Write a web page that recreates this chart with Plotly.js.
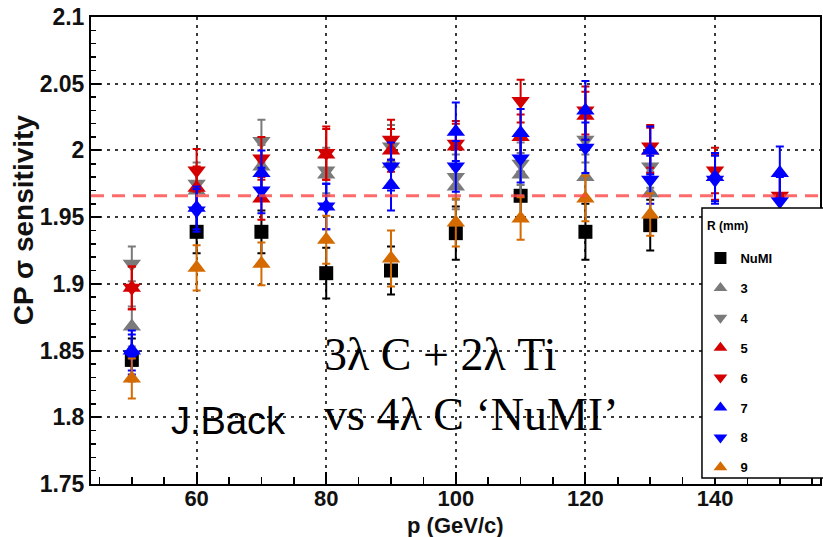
<!DOCTYPE html>
<html>
<head>
<meta charset="utf-8">
<script src="https://cdn.plot.ly/plotly-3.0.1.min.js"></script>
<style>html,body{margin:0;padding:0;background:#fff;}#chart{width:823px;height:537px;}</style>
</head>
<body>
<div id="chart"></div>
<script>
// momentum values p (GeV/c)
var pValues = [50, 60, 70, 80, 90, 100, 110, 120, 130, 140, 150];

// CP sigma sensitivity per horn radius R (mm); null = hidden behind legend
var numiY  = [1.843, 1.939, 1.939, 1.908, 1.910, 1.938, 1.966, 1.939, 1.944, null, null];
var numiE  = [0.016, 0.016, 0.016, 0.019, 0.018, 0.020, 0.018, 0.021, 0.019, null, null];
var r3Y    = [1.868, 1.970, 1.988, 1.982, 1.990, 1.973, 1.982, 1.980, 1.968, null, null];
var r3E    = [0.015, 0.016, 0.016, 0.016, 0.016, 0.017, 0.016, 0.017, 0.016, null, null];
var r4Y    = [1.915, 1.975, 2.007, 1.985, 2.003, 1.980, 1.990, 2.008, 1.988, null, null];
var r4E    = [0.013, 0.016, 0.016, 0.017, 0.016, 0.017, 0.016, 0.017, 0.016, null, null];
var r5Y    = [1.897, 1.972, 1.964, 1.997, 2.000, 2.003, 2.010, 2.026, 2.000, 1.980, null];
var r5E    = [0.016, 0.016, 0.016, 0.019, 0.016, 0.017, 0.017, 0.018, 0.017, 0.017, null];
var r6Y    = [1.897, 1.985, 1.994, 1.998, 2.008, 2.005, 2.037, 2.030, 2.003, 1.985, 1.966];
var r6E    = [0.016, 0.016, 0.016, 0.020, 0.015, 0.017, 0.016, 0.018, 0.016, 0.017, 0.017];
var r7Y    = [1.850, 1.957, 1.983, 1.958, 1.974, 2.014, 2.013, 2.030, 2.000, 1.980, 1.983];
var r7E    = [0.015, 0.016, 0.017, 0.017, 0.019, 0.022, 0.018, 0.022, 0.018, 0.018, 0.020];
var r8Y    = [1.847, 1.955, 1.970, 1.958, 1.988, 1.988, 1.994, 2.002, 1.978, 1.978, 1.962];
var r8E    = [0.015, 0.016, 0.017, 0.017, 0.018, 0.019, 0.018, 0.019, 0.018, 0.018, 0.018];
var r9Y    = [1.829, 1.912, 1.915, 1.933, 1.919, 1.946, 1.949, 1.964, 1.952, null, null];
var r9E    = [0.015, 0.017, 0.016, 0.018, 0.021, 0.018, 0.016, 0.017, 0.016, null, null];

var seriesNames = ['NuMI', '3', '4', '5', '6', '7', '8', '9'];
var refLine = 1.966;

var xTicks = [60, 80, 100, 120, 140];
var yTicks = [1.75, 1.8, 1.85, 1.9, 1.95, 2, 2.05, 2.1];

var specs = [
  {y: numiY, e: numiE, color: '#000000', symbol: 'square', size: 14},
  {y: r3Y, e: r3E, color: '#7a7a7a', symbol: 'triangle-up', size: 16},
  {y: r4Y, e: r4E, color: '#7a7a7a', symbol: 'triangle-down', size: 16},
  {y: r5Y, e: r5E, color: '#d40000', symbol: 'triangle-up', size: 16},
  {y: r6Y, e: r6E, color: '#d40000', symbol: 'triangle-down', size: 16},
  {y: r7Y, e: r7E, color: '#0000ff', symbol: 'triangle-up', size: 16},
  {y: r8Y, e: r8E, color: '#0000ff', symbol: 'triangle-down', size: 16},
  {y: r9Y, e: r9E, color: '#d46a00', symbol: 'triangle-up', size: 16}
];

var traces = specs.map(function (s, i) {
  return {
    type: 'scatter', mode: 'markers',
    x: pValues, y: s.y, name: seriesNames[i],
    legendgroup: 'g' + i,
    marker: {color: s.color, symbol: s.symbol, size: s.size, line: {width: 0}},
    error_y: {type: 'data', array: s.e, visible: true, color: s.color, thickness: 2, width: 4}
  };
});

var sansBold = function (sz) { return {family: 'Liberation Sans, Arial, sans-serif', size: sz, color: '#111', weight: 'bold'}; };
var gridDash = '3px,5px';
var layout = {
  width: 823, height: 537,
  margin: {l: 91, r: 3, t: 17, b: 53, autoexpand: false},
  paper_bgcolor: '#ffffff', plot_bgcolor: '#ffffff',
  showlegend: true,
  xaxis: {
    range: [43.7, 156.2], tickvals: xTicks, ticktext: xTicks.map(String),
    showgrid: true, gridcolor: '#3a3a3a', gridwidth: 2, griddash: gridDash,
    zeroline: false, showline: true, linecolor: '#000', linewidth: 2, mirror: true,
    ticks: 'inside', ticklen: 12, tickwidth: 2, tickcolor: '#000', ticklabelstandoff: -6,
    minor: {dtick: 5, tick0: 0, ticks: 'inside', ticklen: 7, tickwidth: 1.5, tickcolor: '#000', showgrid: false},
    tickfont: sansBold(22)
  },
  yaxis: {
    range: [1.75, 2.1], tickvals: yTicks, ticktext: yTicks.map(String),
    showgrid: true, gridcolor: '#3a3a3a', gridwidth: 2, griddash: gridDash,
    zeroline: false, showline: true, linecolor: '#000', linewidth: 2, mirror: true,
    ticks: 'inside', ticklen: 10, tickwidth: 2, tickcolor: '#000',
    minor: {dtick: 0.01, tick0: 1.75, ticks: 'inside', ticklen: 5, tickwidth: 1.5, tickcolor: '#000', showgrid: false},
    tickfont: sansBold(23)
  },
  legend: {
    x: 0.836, y: 0.516, xanchor: 'left', yanchor: 'top', xref: 'paper', yref: 'paper',
    bgcolor: 'rgba(0,0,0,0)', borderwidth: 0, itemsizing: 'constant',
    traceorder: 'grouped', tracegroupgap: 10, itemwidth: 30,
    font: {family: 'Liberation Sans, Arial, sans-serif', size: 13, color: '#000', weight: 'bold'}
  },
  shapes: [
    {type: 'line', xref: 'paper', x0: 0, x1: 1, yref: 'y', y0: refLine, y1: refLine,
     layer: 'above', line: {color: 'rgba(255,70,70,0.8)', width: 3, dash: '13px,8px'}},
    {type: 'rect', xref: 'paper', yref: 'paper', x0: 0.8381, x1: 1.05, y0: 0.0128, y1: 0.591,
     layer: 'above', fillcolor: '#ffffff', line: {color: '#000', width: 1.5}}
  ],
  annotations: [
    {xref: 'paper', yref: 'paper', x: 0, y: 0.565, xshift: -68, xanchor: 'center', yanchor: 'middle',
     textangle: -90, showarrow: false, text: 'CP \u03c3 sensitivity', font: sansBold(28)},
    {xref: 'paper', yref: 'paper', x: 0.5, y: 0, yshift: -41, xanchor: 'center', yanchor: 'middle',
     showarrow: false, text: 'p (GeV/c)', font: sansBold(22)},
    {xref: 'paper', yref: 'paper', x: 0.8381, y: 0.552, xshift: 3, xanchor: 'left', yanchor: 'middle',
     showarrow: false, text: 'R (mm)',
     font: {family: 'Liberation Sans, Arial, sans-serif', size: 12, color: '#000', weight: 'bold'}},
    {xref: 'paper', yref: 'paper', x: 0.317, y: 0.212, xanchor: 'left', yanchor: 'middle', align: 'left',
     showarrow: false, text: '3\u03bb C + 2\u03bb Ti<br>vs 4\u03bb C \u2018NuMI\u2019',
     font: {family: 'Liberation Serif, Times New Roman, serif', size: 46, color: '#000'}},
    {xref: 'paper', yref: 'paper', x: 0.107, y: 0.135, xanchor: 'left', yanchor: 'middle',
     showarrow: false, text: 'J.Back',
     font: {family: 'Liberation Sans, Arial, sans-serif', size: 38, color: '#000'}}
  ]
};

Plotly.newPlot('chart', traces, layout, {displayModeBar: false, staticPlot: true});
</script>
</body>
</html>
